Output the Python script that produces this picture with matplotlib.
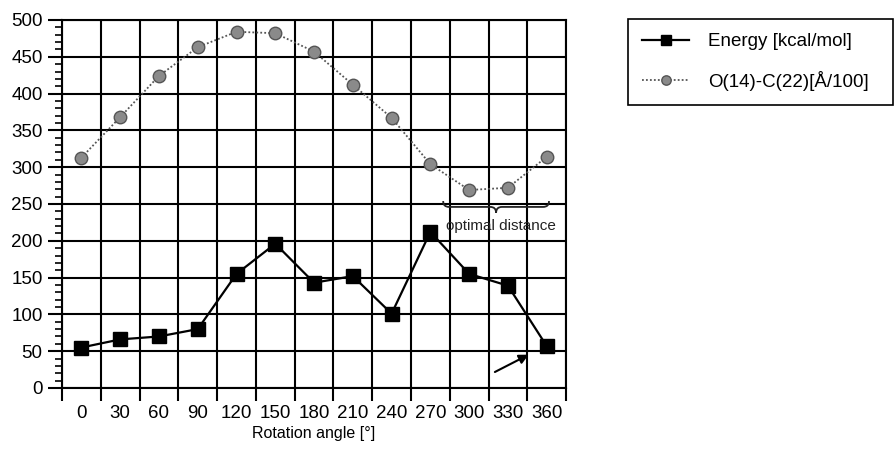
import numpy as np
import matplotlib.pyplot as plt
from matplotlib.path import Path
from matplotlib.patches import PathPatch
from matplotlib.ticker import MultipleLocator, FixedLocator

plt.rcParams["font.family"] = ["Liberation Sans", "DejaVu Sans"]

# data
angles = [0, 30, 60, 90, 120, 150, 180, 210, 240, 270, 300, 330, 360]
energy = [55, 66, 70, 80, 155, 196, 143, 152, 101, 212, 155, 139, 57]
distance = [313, 368, 424, 463, 484, 482, 457, 412, 367, 304, 269, 272, 314]

energy_label = "Energy [kcal/mol]"
distance_label = "O(14)-C(22)[Å/100]"

fig = plt.figure(figsize=(8.94, 4.49), dpi=100)
ax = fig.add_axes([0.0694, 0.1359, 0.5638, 0.8196])

pos = np.arange(len(angles))   # category axis: points sit between grid lines

ax.plot(pos, distance, linestyle=(0, (1, 1.2)), color="#555555", lw=1.3,
        marker="o", markersize=9, markerfacecolor="#8a8a8a",
        markeredgecolor="#555555", markeredgewidth=1, label=distance_label, zorder=4)
ax.plot(pos, energy, color="black", lw=1.6, marker="s", markersize=9.5,
        markerfacecolor="black", markeredgecolor="black", label=energy_label, zorder=5)

ax.set_xlim(-0.5, len(angles) - 0.5)
ax.set_ylim(0, 500)

# x: labels at the centres, ticks + grid at the boundaries
ax.xaxis.set_major_locator(FixedLocator(pos))
ax.set_xticklabels([str(a) for a in angles])
ax.xaxis.set_minor_locator(FixedLocator(np.arange(-0.5, len(angles), 1.0)))
ax.tick_params(axis="x", which="major", length=0, pad=12, labelsize=13.5)
ax.tick_params(axis="x", which="minor", length=9, width=1.5, direction="out")

ax.yaxis.set_major_locator(MultipleLocator(50))
ax.yaxis.set_minor_locator(MultipleLocator(10))
ax.tick_params(axis="y", which="major", length=10, width=1.5, pad=4, labelsize=13.5)
ax.tick_params(axis="y", which="minor", length=5, width=1.2)

ax.grid(True, axis="x", which="minor", color="black", lw=1.5)
ax.grid(True, axis="y", which="major", color="black", lw=1.5)
ax.set_axisbelow(True)
for s in ax.spines.values():
    s.set_linewidth(1.5)

ax.set_xlabel("Rotation angle [°]", fontsize=11.5, labelpad=3)

# curly brace over the minimum of the distance curve
bx0, bx1, by, bh = 9.33, 12.06, 246, 8
bm = (bx0 + bx1) / 2
verts = [(bx0, by + bh), (bx0, by), (bx0 + 0.15, by),
         (bm - 0.15, by), (bm, by), (bm, by - bh),
         (bm, by), (bm + 0.15, by),
         (bx1 - 0.15, by), (bx1, by), (bx1, by + bh)]
codes = [Path.MOVETO, Path.CURVE3, Path.CURVE3,
         Path.LINETO, Path.CURVE3, Path.CURVE3,
         Path.CURVE3, Path.CURVE3,
         Path.LINETO, Path.CURVE3, Path.CURVE3]
ax.add_patch(PathPatch(Path(verts, codes), fill=False, color="#222222", lw=1.3, zorder=6))
ax.text(10.82, 220, "optimal distance", ha="center", va="center", fontsize=11,
        color="#222222", zorder=6)

ax.annotate("", xy=(11.6, 47), xytext=(10.6, 20),
            arrowprops=dict(arrowstyle="-|>", color="black", lw=1.5,
                            mutation_scale=14), zorder=6)

handles, labels = ax.get_legend_handles_labels()
leg = fig.legend(handles[::-1], labels[::-1], loc="upper left",
                 bbox_to_anchor=(0.7025, 0.775, 0.2965, 0.1827), mode="expand",
                 borderaxespad=0, fontsize=13.5, handlelength=2.5, labelspacing=1.1,
                 borderpad=0.75, handletextpad=1.0, markerscale=0.75, fancybox=False,
                 framealpha=1, edgecolor="black")
leg.get_frame().set_linewidth(1.2)

fig.savefig("out.png", dpi=100)
